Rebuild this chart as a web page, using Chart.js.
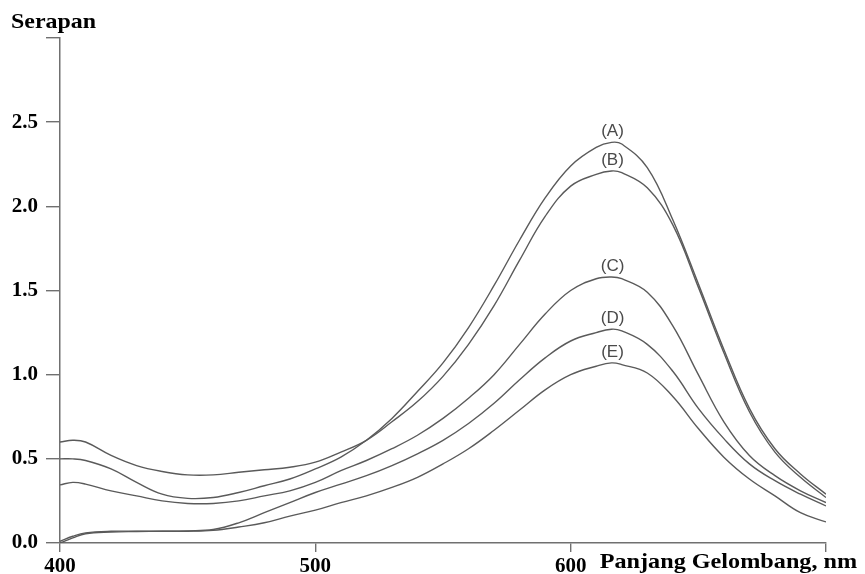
<!DOCTYPE html>
<html>
<head>
<meta charset="utf-8">
<script src="https://cdn.jsdelivr.net/npm/chart.js@4/dist/chart.umd.min.js"></script>
<style>
  html, body { margin: 0; padding: 0; background: #ffffff; }
  canvas { display: block; }
</style>
</head>
<body>
<canvas id="c" width="865" height="574"></canvas>
<script>
// ---- data ----
const wavelengths = [400,405,410,420,430,440,450,460,470,480,490,500,510,520,530,540,550,560,570,580,590,600,610,616,620,630,640,650,660,670,680,690,700];
const seriesNames = ['(A)','(B)','(C)','(D)','(E)'];
const serapanA = [0.50,0.50,0.49,0.44,0.36,0.29,0.265,0.27,0.30,0.34,0.38,0.44,0.51,0.61,0.74,0.90,1.07,1.28,1.53,1.80,2.05,2.24,2.35,2.38,2.37,2.23,1.92,1.54,1.15,0.80,0.56,0.41,0.29];
const serapanB = [0.60,0.61,0.60,0.52,0.46,0.425,0.405,0.405,0.42,0.435,0.45,0.48,0.54,0.61,0.72,0.84,0.99,1.18,1.41,1.68,1.94,2.12,2.19,2.21,2.20,2.11,1.89,1.52,1.13,0.78,0.54,0.39,0.27];
const serapanC = [0.345,0.36,0.35,0.31,0.28,0.25,0.235,0.235,0.25,0.28,0.31,0.36,0.43,0.49,0.56,0.64,0.74,0.86,1.00,1.18,1.36,1.50,1.57,1.58,1.57,1.49,1.29,1.00,0.72,0.52,0.40,0.31,0.24];
const serapanD = [0.01,0.04,0.06,0.07,0.07,0.07,0.072,0.08,0.12,0.18,0.24,0.30,0.35,0.40,0.46,0.53,0.61,0.71,0.83,0.97,1.10,1.20,1.25,1.27,1.26,1.18,1.02,0.80,0.62,0.47,0.37,0.29,0.22];
const serapanE = [0.0,0.03,0.055,0.065,0.068,0.07,0.07,0.075,0.095,0.12,0.16,0.195,0.24,0.28,0.33,0.39,0.47,0.56,0.67,0.79,0.91,1.00,1.05,1.07,1.06,1.01,0.87,0.68,0.51,0.38,0.28,0.18,0.125];
const xTicks = [400, 500, 600];
const yTicks = [0.0, 0.5, 1.0, 1.5, 2.0, 2.5];
const yTitle = 'Serapan';
const xTitle = 'Panjang Gelombang, nm';

const allSeries = [serapanA, serapanB, serapanC, serapanD, serapanE];
const lineColor = '#5a5a5a';
const axisColor = '#707070';
const serif = "'Liberation Serif', 'Times New Roman', serif";

const datasets = allSeries.map((vals, i) => ({
  label: seriesNames[i],
  data: wavelengths.map((w, j) => ({ x: w, y: vals[j] })),
  borderColor: lineColor,
  borderWidth: 1.4,
  pointRadius: 0,
  fill: false,
  tension: 0.4
}));

function stretchedText(ctx, text, x, y, sx) {
  ctx.save();
  ctx.translate(x, y);
  ctx.scale(sx, 1);
  ctx.fillText(text, 0, 0);
  ctx.restore();
}

const annotatePlugin = {
  id: 'annot',
  afterDatasetsDraw(chart) {
    const ctx = chart.ctx;
    ctx.save();
    // peak labels
    ctx.font = "17px 'Liberation Sans', Arial, sans-serif";
    ctx.fillStyle = '#4a4a4a';
    ctx.textAlign = 'center';
    ctx.textBaseline = 'middle';
    chart.data.datasets.forEach((ds, i) => {
      const vals = allSeries[i];
      let k = 0;
      for (let j = 1; j < vals.length; j++) if (vals[j] > vals[k]) k = j;
      const pt = chart.getDatasetMeta(i).data[k];
      ctx.fillText(seriesNames[i], pt.x + 1, pt.y - 11);
    });
    // axis titles
    const area = chart.chartArea;
    ctx.fillStyle = '#000';
    ctx.textAlign = 'left';
    ctx.textBaseline = 'alphabetic';
    ctx.font = "bold 21px " + serif;
    stretchedText(ctx, yTitle, 11, 28, 1.14);
    ctx.font = "bold 22px " + serif;
    const xs = chart.scales.x;
    stretchedText(ctx, xTitle, xs.getPixelForValue(600) + 29, area.bottom + 25, 1.1);
    ctx.restore();
  }
};

new Chart(document.getElementById('c'), {
  type: 'line',
  data: { datasets },
  plugins: [annotatePlugin],
  options: {
    responsive: false,
    animation: false,
    devicePixelRatio: 1,
    layout: { padding: { left: 0, right: 39, top: 38, bottom: 0 } },
    plugins: { legend: { display: false }, tooltip: { enabled: false }, title: { display: false } },
    scales: {
      x: {
        type: 'linear',
        min: 400, max: 700,
        afterBuildTicks(scale) { scale.ticks = [400,500,600,700].map(v => ({ value: v })); },
        afterFit(scale) { scale.height = 31; },
        ticks: {
          callback: (v) => xTicks.includes(v) ? String(v) : '',
          color: '#000',
          font: { family: serif, size: 21, weight: 'bold' },
          padding: 2,
          maxRotation: 0,
          autoSkip: false
        },
        grid: { display: true, drawOnChartArea: false, drawTicks: true, tickLength: 9, color: axisColor, lineWidth: 1.4 },
        border: { display: true, color: axisColor, width: 1.5 }
      },
      y: {
        type: 'linear',
        min: 0, max: 3,
        afterBuildTicks(scale) { scale.ticks = [0,0.5,1,1.5,2,2.5,3].map(v => ({ value: v })); },
        afterFit(scale) { scale.width = 60; },
        ticks: {
          callback: (v) => yTicks.some(t => Math.abs(t - v) < 1e-9) ? Number(v).toFixed(1) : '',
          color: '#000',
          font: { family: serif, size: 21, weight: 'bold' },
          padding: 8,
          autoSkip: false
        },
        grid: { display: true, drawOnChartArea: false, drawTicks: true, tickLength: 14, color: axisColor, lineWidth: 1.4 },
        border: { display: true, color: axisColor, width: 1.5 }
      }
    }
  }
});
</script>
</body>
</html>
